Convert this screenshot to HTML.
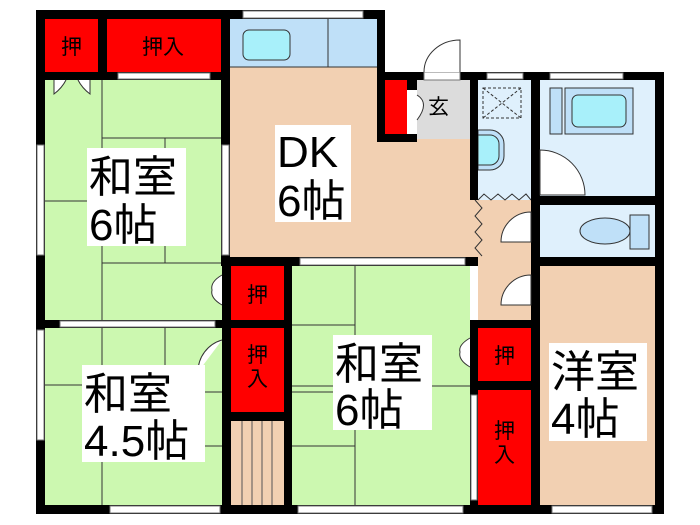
<!DOCTYPE html><html><head><meta charset="utf-8"><style>body{margin:0;background:#fff}svg{display:block}text{font-family:"Liberation Sans","Noto Sans CJK JP",sans-serif}</style></head><body>
<svg width="700" height="525" viewBox="0 0 700 525" xmlns="http://www.w3.org/2000/svg">
<rect width="700" height="525" fill="#fff"/>
<rect x="45" y="80" width="177" height="240" fill="#ccf8b0"/>
<rect x="45" y="328" width="177" height="177" fill="#ccf8b0"/>
<rect x="292" y="266" width="178" height="239" fill="#ccf8b0"/>
<rect x="230" y="19" width="147" height="48" fill="#bfe0f8"/>
<rect x="230" y="67" width="147" height="191" fill="#f2d0b2"/>
<rect x="377" y="139" width="101" height="119" fill="#f2d0b2"/>
<rect x="417" y="80" width="53" height="59" fill="#dcdcdc"/>
<rect x="478" y="80" width="53" height="120" fill="#dff0fc"/>
<rect x="540" y="80" width="115" height="116" fill="#dff0fc"/>
<rect x="540" y="205" width="115" height="52" fill="#dff0fc"/>
<rect x="478" y="200" width="53" height="120" fill="#f2d0b2"/>
<rect x="540" y="266" width="115" height="239" fill="#f2d0b2"/>
<rect x="231" y="421" width="53" height="84" fill="#f2d0b2"/>
<g stroke="#555" stroke-width="1"><line x1="242" y1="421" x2="242" y2="505"/><line x1="252" y1="421" x2="252" y2="505"/><line x1="262" y1="421" x2="262" y2="505"/><line x1="272" y1="421" x2="272" y2="505"/></g>
<g fill="#ff0000"><rect x="45" y="19" width="53" height="53"/><rect x="107" y="19" width="114" height="53"/><rect x="231" y="266" width="53" height="54"/><rect x="231" y="328" width="53" height="84"/><rect x="478" y="328" width="53" height="53"/><rect x="478" y="390" width="53" height="115"/><rect x="385" y="80" width="22" height="54"/></g>
<g stroke="#333" stroke-width="1" fill="none">
<path d="M102 80V320M102 138H222M165 138V263M45 201H102M102 263H222"/>
<path d="M102 328V505M45 385H102M165 328V392M102 392H222M205 446H222"/>
<path d="M355 266V505M292 325H355M355 325V446M292 446H355M292 392H355M292 386H470M355 386V505"/>
</g>
<line x1="328" y1="19" x2="328" y2="67" stroke="#333"/>
<line x1="230" y1="67" x2="377" y2="67" stroke="#333"/>
<rect x="243" y="30" width="47" height="30" rx="6" fill="#a8f0fa" stroke="#333"/>
<rect x="483" y="88" width="38" height="30" fill="none" stroke="#333" stroke-dasharray="3,2"/>
<path d="M483 88L521 118M521 88L483 118" stroke="#333" stroke-dasharray="3,2"/>
<path d="M478 130H490A14 14 0 0 1 504 144V156A14 14 0 0 1 490 170H478Z" fill="#bfe0f8" stroke="#333"/>
<path d="M478 135H490A9 9 0 0 1 499 144V156A9 9 0 0 1 490 165H478Z" fill="#a8f0fa" stroke="#333"/>
<rect x="550" y="88" width="12" height="46" fill="#bfe0f8" stroke="#333"/>
<rect x="565" y="88" width="68" height="46" fill="#bfe0f8" stroke="#333"/>
<rect x="572" y="95" width="54" height="32" rx="6" fill="#a8f0fa" stroke="#333"/>
<ellipse cx="605" cy="231" rx="25" ry="13" fill="#bfe0f8" stroke="#333"/>
<rect x="630" y="215" width="19" height="34" fill="#bfe0f8" stroke="#333"/>
<path d="M478 200L484 194L491 200L498 194L505 200L512 194L519 200L526 194L531 200" fill="none" stroke="#333"/>
<path d="M475 200L482 208L475 216L482 224L475 232L482 240L475 248L482 256" fill="none" stroke="#333"/>
<g fill="#000">
<rect x="36" y="10" width="349" height="9"/>
<rect x="36" y="10" width="9" height="504"/>
<rect x="36" y="505" width="628" height="9"/>
<rect x="655" y="72" width="9" height="442"/>
<rect x="377" y="10" width="8" height="132"/>
<rect x="377" y="72" width="287" height="8"/>
<rect x="98" y="19" width="9" height="53"/>
<rect x="45" y="72" width="185" height="8"/>
<rect x="221" y="10" width="9" height="256"/>
<rect x="222" y="258" width="9" height="247"/>
<rect x="36" y="320" width="256" height="8"/>
<rect x="222" y="257" width="256" height="9"/>
<rect x="284" y="258" width="8" height="247"/>
<rect x="222" y="412" width="70" height="9"/>
<rect x="470" y="72" width="8" height="128"/>
<rect x="470" y="320" width="8" height="185"/>
<rect x="470" y="320" width="70" height="8"/>
<rect x="470" y="381" width="70" height="9"/>
<rect x="531" y="72" width="9" height="442"/>
<rect x="531" y="196" width="133" height="9"/>
<rect x="531" y="257" width="133" height="9"/>
<rect x="377" y="134" width="40" height="8"/>
<rect x="407" y="80" width="10" height="10"/>
</g>
<g fill="#fff" stroke="#777" stroke-width="1">
<rect x="243" y="11" width="120" height="7"/><rect x="118" y="73" width="92" height="6"/>
<rect x="37" y="145" width="7" height="110"/><rect x="37" y="330" width="7" height="110"/>
<rect x="222" y="145" width="7" height="110"/><rect x="60" y="321" width="155" height="6"/>
<rect x="300" y="258" width="165" height="7"/><rect x="471" y="395" width="6" height="105"/>
<rect x="487" y="73" width="36" height="6"/><rect x="550" y="73" width="73" height="6"/>
<rect x="110" y="506" width="110" height="7"/><rect x="298" y="506" width="165" height="7"/><rect x="552" y="506" width="100" height="7"/>
<rect x="424" y="72" width="36" height="8"/>
</g>
<g fill="#fff" stroke="#333" stroke-width="1">
<path d="M460 72V40A36 32 0 0 0 424 72"/>
<path d="M540 150A45 45 0 0 1 585 195H540Z"/>
<path d="M531 212A30 30 0 0 0 501 242H531Z"/>
<path d="M531 275A30 30 0 0 0 501 305H531Z"/>
<path d="M54 80V94Q62 88 66 80M90 80V94Q82 88 78 80"/>
<path d="M222 275Q210 282 212 290Q210 298 222 305"/>
<path d="M222 340A33 33 0 0 0 198 372"/>
<path d="M470 338Q458 345 460 352Q458 360 470 367"/>
<path d="M417 95Q430 103 417 120"/>
</g>
<g fill="#fff"><rect x="87" y="148" width="99" height="98"/><rect x="275" y="125" width="76" height="97"/><rect x="82" y="365" width="123" height="97"/><rect x="333" y="335" width="99" height="95"/><rect x="549" y="343" width="98" height="98"/></g>
<g fill="#000" font-size="44">
<text x="89" y="192">和室</text><text x="89" y="240">6帖</text>
<text x="277" y="167">DK</text><text x="277" y="216">6帖</text>
<text x="84" y="409">和室</text><text x="84" y="456">4.5帖</text>
<text x="335" y="379">和室</text><text x="335" y="425">6帖</text>
<text x="551" y="387">洋室</text><text x="551" y="434">4帖</text>
</g>
<g fill="#000" font-size="21">
<text x="61" y="54">押</text><text x="142" y="54">押入</text>
<text x="247" y="302">押</text><text x="247" y="362">押</text><text x="247" y="386">入</text>
<text x="494" y="363">押</text><text x="494" y="438">押</text><text x="494" y="462">入</text>
<text x="428" y="114">玄</text>
</g>
</svg></body></html>
